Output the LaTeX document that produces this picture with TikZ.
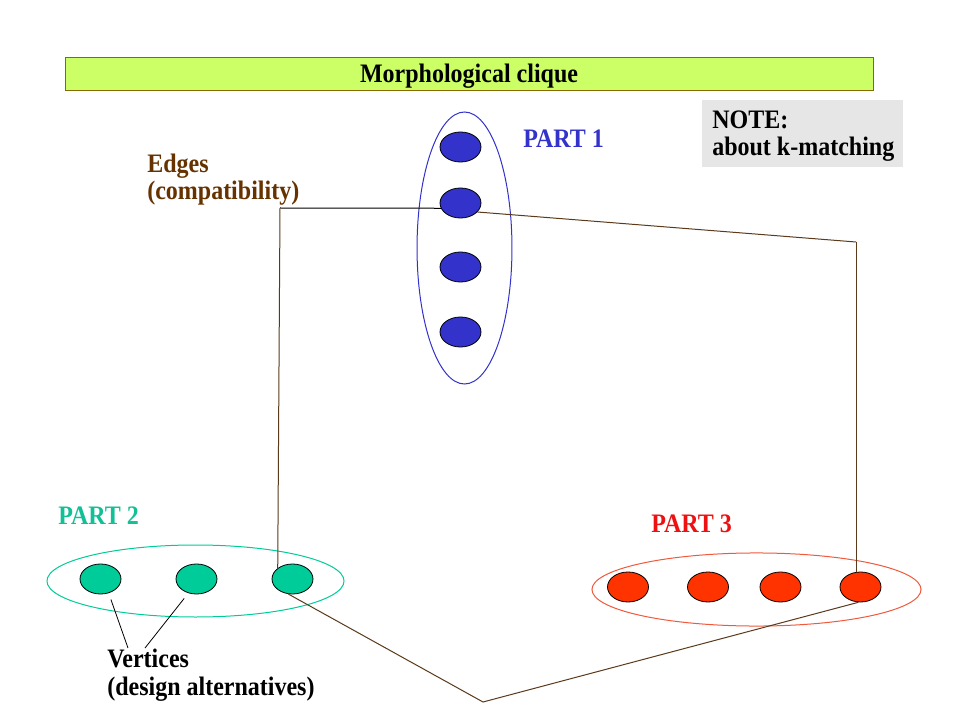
\documentclass[tikz,border=0pt]{standalone}
\usepackage{fontspec}
\setmainfont[FakeStretch=0.9]{Liberation Serif}
\usetikzlibrary{shapes.geometric}
\definecolor{pblue}{HTML}{3333CC}
\definecolor{pgreen}{HTML}{00CC99}
\definecolor{pred}{HTML}{FF3300}
\definecolor{ered}{HTML}{F05A3C}
\definecolor{lred}{HTML}{EE1111}
\definecolor{lgreen}{HTML}{10C096}
\definecolor{ebrown}{HTML}{663300}
\definecolor{lbrown}{HTML}{5A3A1A}
\definecolor{barfill}{HTML}{CCFF66}
\definecolor{barline}{HTML}{8A6A00}
\definecolor{notegray}{HTML}{E6E6E6}
\begin{document}
\begin{tikzpicture}[x=0.75pt,y=-0.75pt,
  vnode/.style={ellipse, draw=black, line width=0.6pt, minimum width=30.75pt, minimum height=22.5pt, inner sep=0pt},
  lbl/.style={font=\fontsize{20}{20.6}\selectfont\bfseries, inner sep=0pt, anchor=base west, align=left},
  edgeline/.style={draw=lbrown, line width=0.75pt},
  groupline/.style={line width=0.75pt},
  pointer/.style={draw=black, line width=0.6pt, shorten >=5pt}]
\useasboundingbox[fill=white] (0,0) rectangle (960,720);
% title
\node[draw=barline, fill=barfill, line width=0.75pt, minimum width=606pt, minimum height=24.75pt, inner sep=0pt] (title) at (469,74.5) {};
\node[font=\fontsize{20}{22}\selectfont\bfseries, inner sep=0pt, anchor=base] (titletext) at (469,83) {Morphological clique};
% note
\fill[notegray] (702,100) rectangle (903,167);
\node[lbl] (note) at (712,155.5) {NOTE:\\about k-matching};
% groups
\draw[pblue, groupline] (464.5,248) ellipse [x radius=35.6pt, y radius=102pt];
\draw[pgreen, groupline] (195.5,581) ellipse [x radius=111.4pt, y radius=27pt];
\draw[ered, groupline] (756.5,589.5) ellipse [x radius=123.4pt, y radius=27.4pt];
% vertices
\node[vnode, fill=pblue] (b1) at (460.5,147) {};
\node[vnode, fill=pblue] (b2) at (460.5,203) {};
\node[vnode, fill=pblue] (b3) at (460.5,267) {};
\node[vnode, fill=pblue] (b4) at (460.5,332) {};
\node[vnode, fill=pgreen] (g1) at (100.5,579) {};
\node[vnode, fill=pgreen] (g2) at (196.5,579) {};
\node[vnode, fill=pgreen] (g3) at (292.5,579) {};
\node[vnode, fill=pred] (r1) at (628,587) {};
\node[vnode, fill=pred] (r2) at (708,587) {};
\node[vnode, fill=pred] (r3) at (780.5,587) {};
\node[vnode, fill=pred] (r4) at (860.5,587) {};
% labels
\node[lbl, text=pblue] (p1) at (523,148) {PART 1};
\node[lbl, text=lgreen] (p2) at (58,524) {PART 2};
\node[lbl, text=lred] (p3) at (651,532) {PART 3};
\node[lbl, text=ebrown] (edges) at (147,199.5) {Edges\\(compatibility)};
\node[lbl, text=black] (vert) at (107,695) {Vertices\\(design alternatives)};
% connectors
\coordinate (c1) at (280,208);
\coordinate (c2) at (856,242);
\coordinate (c3) at (483,702);
\draw[black, line width=0.75pt] (b2.195) -- (c1);
\draw[edgeline] (c1) -- (g3.north west);
\draw[edgeline] (b2.-28) -- (c2);
\draw[edgeline] (c2) -- (c2 |- r4.north);
\draw[edgeline] (g3.255) -- (c3) -- (r4.262);
\coordinate (v1) at (128,648);
\coordinate (v2) at (145,648);
\draw[pointer] (v1) -- (g1.-60);
\draw[pointer] (v2) -- (g2.-120);
\end{tikzpicture}
\end{document}
